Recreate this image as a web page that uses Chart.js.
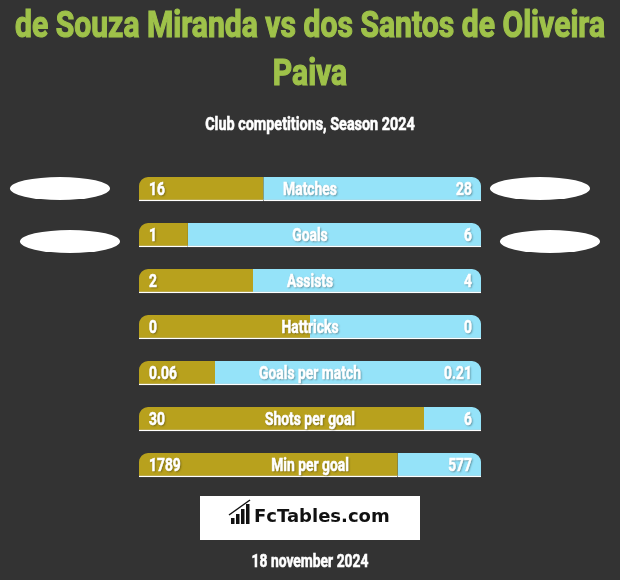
<!DOCTYPE html>
<html>
<head>
<meta charset="utf-8">
<script src="https://cdn.jsdelivr.net/npm/chart.js@4.4.0/dist/chart.umd.min.js"></script>
<style>
  html, body { margin: 0; padding: 0; background: #333333; }
  #wrap { width: 620px; height: 580px; position: relative; }
</style>
</head>
<body>
<div id="wrap"><canvas id="cmp" width="620" height="580"></canvas></div>
<script>
const titleLines = ["de Souza Miranda vs dos Santos de Oliveira", "Paiva"];
const subtitle = "Club competitions, Season 2024";
const dateText = "18 november 2024";
const categories = ["Matches", "Goals", "Assists", "Hattricks", "Goals per match", "Shots per goal", "Min per goal"];
const leftValues = [16, 1, 2, 0, 0.06, 30, 1789];
const rightValues = [28, 6, 4, 0, 0.21, 6, 577];
const leftLabels = ["16", "1", "2", "0", "0.06", "30", "1789"];
const rightLabels = ["28", "6", "4", "0", "0.21", "6", "577"];

const gold = "#b8a11d";
const blue = "#95e3f9";
const green = "#9fc24a";
const font = "Roboto, 'DejaVu Sans', sans-serif";
const squeeze = 0.77;

// share of each side in a row, 0/0 is shown as half and half
const leftShare = leftValues.map((v, i) => {
  const t = v + rightValues[i];
  return t === 0 ? 0.5 : v / t;
});
const rightShare = leftShare.map(s => 1 - s);

// narrow heavy text: a bold face squeezed sideways and thickened a little
function narrowText(ctx, text, x, y, size, align, sx, thick) {
  ctx.save();
  ctx.font = "bold " + size + "px " + font;
  ctx.textAlign = align;
  ctx.textBaseline = "middle";
  ctx.translate(x, y);
  ctx.scale(sx || squeeze, 1);
  ctx.fillText(text, 0, 0);
  ctx.shadowColor = "transparent";
  ctx.strokeStyle = ctx.fillStyle;
  ctx.lineWidth = thick || 0.6;
  ctx.strokeText(text, 0, 0);
  ctx.restore();
}

const extras = {
  id: "extras",
  afterDatasetsDraw(chart) {
    const ctx = chart.ctx;
    const meta = chart.getDatasetMeta(0);
    const area = chart.chartArea;
    ctx.save();
    ctx.fillStyle = "#ffffff";
    ctx.shadowColor = "rgba(0,0,0,0.4)";
    ctx.shadowOffsetX = 1;
    ctx.shadowOffsetY = 1;
    ctx.shadowBlur = 2;
    meta.data.forEach((bar, i) => {
      const y = bar.y + 1;
      narrowText(ctx, leftLabels[i], area.left + 10, y, 18, "left");
      narrowText(ctx, rightLabels[i], area.right - 9, y, 18, "right");
      narrowText(ctx, categories[i], (area.left + area.right) / 2, y, 18, "center");
    });
    ctx.restore();
  },
  afterDraw(chart) {
    const ctx = chart.ctx;
    ctx.save();
    // title, fitted to the width used by the original
    ctx.fillStyle = green;
    ctx.font = "bold 37px " + font;
    const sx = 590 / ctx.measureText(titleLines[0]).width;
    narrowText(ctx, titleLines[0], 310, 28, 37, "center", sx, 1.2);
    narrowText(ctx, titleLines[1], 310, 76, 37, "center", sx, 1.2);

    ctx.fillStyle = "#ffffff";
    narrowText(ctx, subtitle, 310, 125, 18, "center", 0.8);

    // white ovals beside the first two rows
    [[60, 188.5], [540, 188.5], [70, 241.5], [550, 241.5]].forEach(p => {
      ctx.beginPath();
      ctx.ellipse(p[0], p[1], 50, 11.5, 0, 0, Math.PI * 2);
      ctx.fill();
    });

    // logo box
    ctx.fillRect(200, 496, 220, 44);
    ctx.fillStyle = "#111111";
    [6, 10, 15, 20].forEach((h, i) => {
      ctx.fillRect(231 + i * 5, 524 - h, 3.5, h);
    });
    ctx.strokeStyle = "#111111";
    ctx.lineWidth = 1.5;
    ctx.beginPath();
    ctx.moveTo(229, 515);
    ctx.lineTo(250, 500);
    ctx.stroke();
    ctx.font = "bold 18px 'DejaVu Sans', sans-serif";
    ctx.textAlign = "left";
    ctx.textBaseline = "middle";
    ctx.fillText("FcTables.com", 254, 517);

    // date
    ctx.fillStyle = "#ffffff";
    narrowText(ctx, dateText, 310, 562, 18, "center");
    ctx.restore();
  }
};

new Chart(document.getElementById("cmp").getContext("2d"), {
  type: "bar",
  data: {
    labels: categories,
    datasets: [
      {
        data: leftShare,
        backgroundColor: gold,
        borderColor: "#ffffff",
        borderWidth: { top: 0, left: 0, right: 0, bottom: 1.5 },
        borderSkipped: false,
        borderRadius: { topLeft: 9, topRight: 0, bottomLeft: 0, bottomRight: 0 },
        barThickness: 24
      },
      {
        data: rightShare,
        backgroundColor: blue,
        borderColor: "#ffffff",
        borderWidth: { top: 0, left: 0, right: 0, bottom: 1.5 },
        borderSkipped: false,
        borderRadius: { topLeft: 0, topRight: 9, bottomLeft: 0, bottomRight: 0 },
        barThickness: 24
      }
    ]
  },
  options: {
    indexAxis: "y",
    responsive: false,
    animation: false,
    layout: { padding: { left: 139, right: 139, top: 166, bottom: 92 } },
    plugins: {
      legend: { display: false },
      tooltip: { enabled: false },
      title: { display: false }
    },
    scales: {
      x: { stacked: true, min: 0, max: 1, display: false },
      y: { stacked: true, display: false }
    }
  },
  plugins: [extras]
});
</script>
</body>
</html>
